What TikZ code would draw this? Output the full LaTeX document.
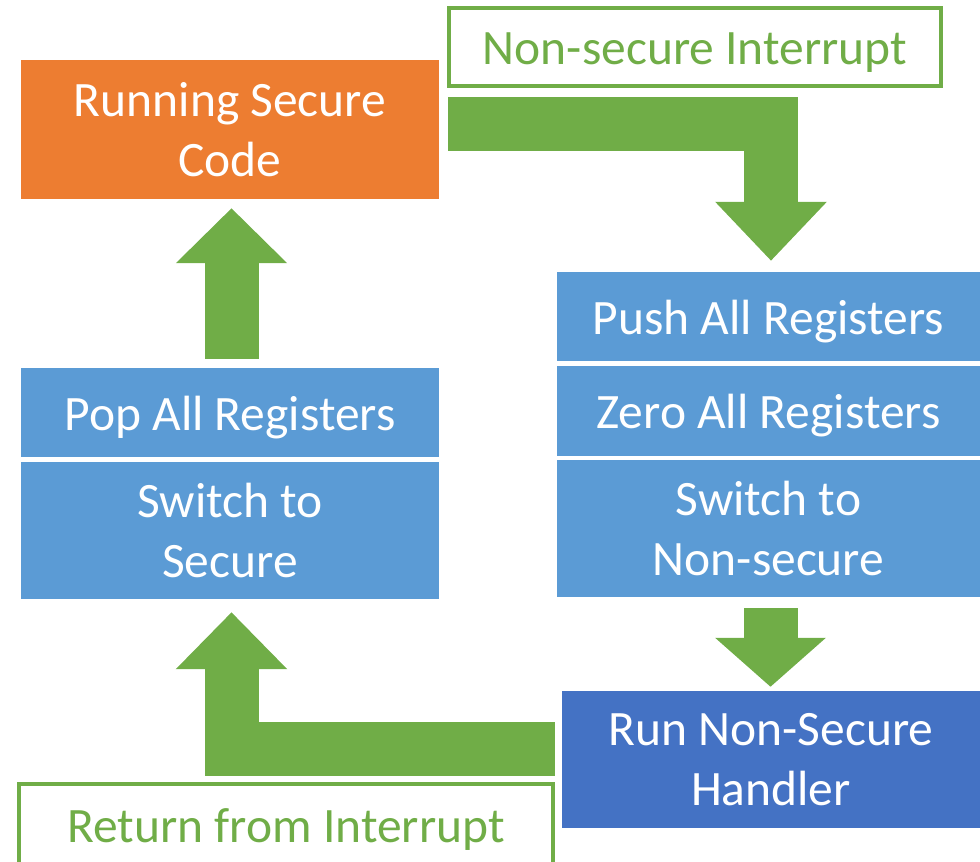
\documentclass[tikz,border=0pt]{standalone}
\usepackage{fontspec}
\usepackage{xcolor}
\usetikzlibrary{arrows.meta}
\setmainfont{Carlito}

\definecolor{secorange}{HTML}{ED7D31}
\definecolor{regblue}{HTML}{5B9BD5}
\definecolor{handlerblue}{HTML}{4472C4}
\definecolor{flowgreen}{HTML}{70AD47}

\tikzset{
  box/.style={rectangle, inner sep=0pt, align=center, text=white,
    font=\fontsize{49.5}{60}\selectfont,
    execute at begin node=\rule{0pt}{44pt}},
  tagbox/.style={rectangle, inner sep=0pt, draw=flowgreen, line width=4pt,
    text=flowgreen, font=\fontsize{49.5}{60}\selectfont},
  flow/.style={draw=flowgreen, line width=54pt,
    -{Triangle[width=108pt, length=#1]}},
}

\begin{document}
\begin{tikzpicture}[x=1pt, y=-1pt]
            \useasboundingbox (0,0) rectangle (980,862);

            % secure side
            \node (run) at (230,129.5) [box, fill=secorange, minimum width=418pt, minimum height=139pt] {Running Secure\\Code};
            \node (pop) at (230,412.5) [box, fill=regblue, minimum width=418pt, minimum height=89pt] {Pop All Registers};
            \node (sws) at (230,530.5) [box, fill=regblue, minimum width=418pt, minimum height=137pt] {Switch to\\Secure};

            % non-secure side
            \node (push) at (768.5,316.5) [box, fill=regblue, minimum width=423pt, minimum height=89pt] {Push All Registers};
            \node (zero) at (768.5,411) [box, fill=regblue, minimum width=423pt, minimum height=90pt] {Zero All Registers};
            \node (swns) at (768.5,528.5) [box, fill=regblue, minimum width=423pt, minimum height=137pt] {Switch to\\Non-secure};
            \node (handler) at (771,759.5) [box, fill=handlerblue, minimum width=418pt, minimum height=137pt] {Run Non-Secure\\Handler};

            % event tags
            \node (nsi) at (695,47) [tagbox, minimum width=492pt, minimum height=78pt, execute at begin node=\rule{0pt}{42pt}] {Non-secure Interrupt};
            \node (rfi) at (286,830) [tagbox, minimum width=534pt, minimum height=92pt] {Return from Interrupt};

            % big arrows
            \draw[flow=59pt] ([xshift=9pt,yshift=6pt]run.east) -| ([xshift=2.5pt,yshift=11pt]push.north);
            \draw[flow=49pt] ([xshift=2pt,yshift=-11pt]swns.south) -- ([xshift=2pt,yshift=4pt]handler.north -| swns.south);
            \draw[flow=57pt] ([xshift=-7pt,yshift=11pt]handler.west) -| ([xshift=1.5pt,yshift=-13pt]sws.south);
            \draw[flow=55pt] ([xshift=1.5pt,yshift=9pt]pop.north) -- ([xshift=1.5pt,yshift=-9pt]run.south);

        \end{tikzpicture}
\end{document}
